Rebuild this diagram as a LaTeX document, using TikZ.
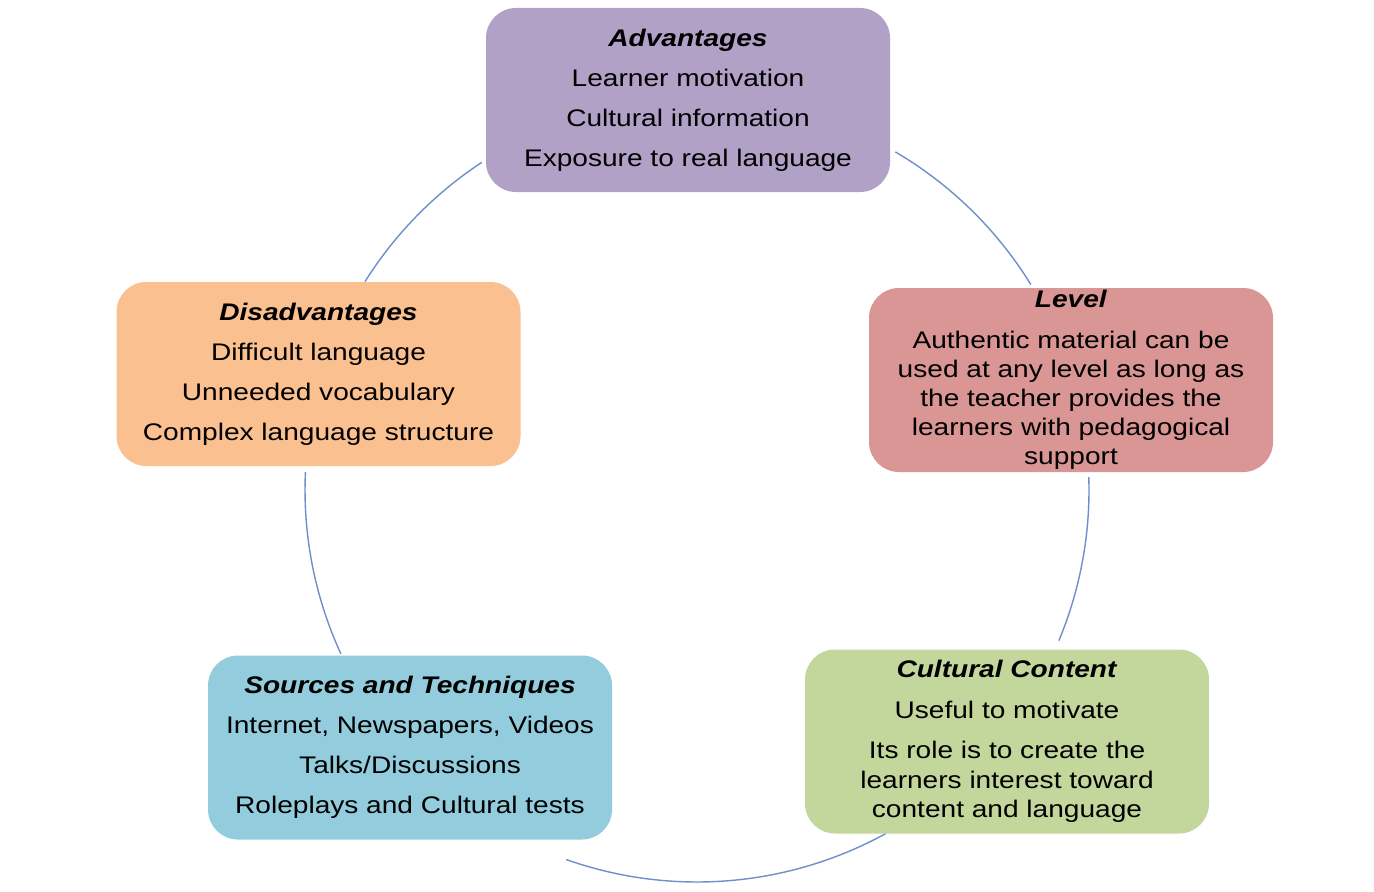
\documentclass[tikz,border=0pt]{standalone}
\usepackage{fontspec}
\setmainfont{Liberation Sans}[FakeStretch=1.17]
\definecolor{advc}{HTML}{B2A1C7}
\definecolor{levc}{HTML}{D99694}
\definecolor{culc}{HTML}{C3D69B}
\definecolor{srcc}{HTML}{93CDDD}
\definecolor{disc}{HTML}{FAC090}
\definecolor{arcc}{HTML}{6F8FCB}
\tikzset{
  card/.style={rounded corners=15pt, minimum width=202pt, minimum height=92pt,
    align=center, inner sep=0pt, font=\fontsize{12}{20}\selectfont, text=black},
  link/.style={draw=arcc, line width=0.7pt}
}
\newcommand{\hd}[1]{\textbf{\textit{#1}}}
\begin{document}
\begin{tikzpicture}[x=0.5pt,y=0.5pt]
\useasboundingbox (0,0) rectangle (1374,891);
\fill[white] (0,0) rectangle (1374,891);
\coordinate (C) at (697,401);
% arcs (cycle)
\draw[link] ([shift={(59.6:392)}]C) arc[start angle=59.6, end angle=31.6, radius=392];
\draw[link] ([shift={(1.9:392)}]C) arc[start angle=1.9, end angle=-22.6, radius=392];
\draw[link] ([shift={(-61.2:392)}]C) arc[start angle=-61.2, end angle=-109.5, radius=392];
\draw[link] ([shift={(-155.3:392)}]C) arc[start angle=-155.3, end angle=-182.6, radius=392];
\draw[link] ([shift={(147.9:392)}]C) arc[start angle=147.9, end angle=123.3, radius=392];
% boxes
\node[card, fill=advc] (adv) at (688,791) {\hd{Advantages}\\Learner motivation\\Cultural information\\Exposure to real language};
\node[card, fill=levc, font=\fontsize{12}{14.5}\selectfont] (lev) at (1071,511) {\hd{Level}\\[6pt]Authentic material can be\\used at any level as long as\\the teacher provides the\\learners with pedagogical\\support};
\node[card, fill=culc, font=\fontsize{12}{14.75}\selectfont] (cul) at (1007,149.5) {\hd{Cultural Content}\\[5.75pt]Useful to motivate\\[5.25pt]Its role is to create the\\learners interest toward\\content and language};
\node[card, fill=srcc] (src) at (410,143.5) {\hd{Sources and Techniques}\\Internet, Newspapers, Videos\\Talks/Discussions\\Roleplays and Cultural tests};
\node[card, fill=disc] (dis) at (318.5,517) {\hd{Disadvantages}\\Difficult language\\Unneeded vocabulary\\Complex language structure};
\end{tikzpicture}
\end{document}
